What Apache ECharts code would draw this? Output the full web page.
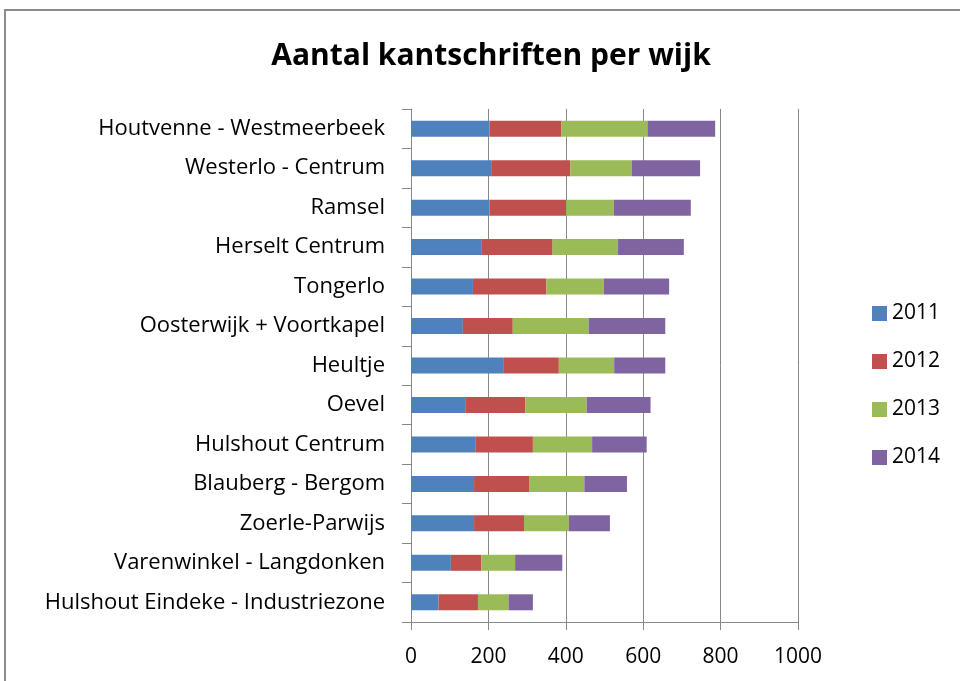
<!DOCTYPE html>
<html>
<head>
<meta charset="utf-8">
<script src="https://cdn.jsdelivr.net/npm/echarts@6/dist/echarts.min.js"></script>
<style>
  html, body { margin: 0; padding: 0; background: #fff; }
  #chart { width: 960px; height: 681px; }
</style>
</head>
<body>
<div id="chart"></div>
<script>
// wijken, van boven naar onder
var wijken = [
  'Houtvenne - Westmeerbeek',
  'Westerlo - Centrum',
  'Ramsel',
  'Herselt Centrum',
  'Tongerlo',
  'Oosterwijk + Voortkapel',
  'Heultje',
  'Oevel',
  'Hulshout Centrum',
  'Blauberg - Bergom',
  'Zoerle-Parwijs',
  'Varenwinkel - Langdonken',
  'Hulshout Eindeke - Industriezone'
]
var jaren = ['2011', '2012', '2013', '2014']
var data2011 = [203, 209, 203, 183, 160, 134, 240, 140, 166, 163, 163, 103, 71]
var data2012 = [186, 203, 198, 183, 190, 129, 142, 155, 149, 142, 129, 79, 102]
var data2013 = [222, 158, 123, 169, 148, 196, 143, 159, 153, 143, 116, 87, 79]
var data2014 = [175, 177, 199, 170, 169, 198, 132, 165, 141, 110, 106, 122, 63]
var xTicks = { min: 0, max: 1000, interval: 200 }

var kleuren = ['#4F81BD', '#C0504D', '#9BBB59', '#8064A2']
var reeksen = [data2011, data2012, data2013, data2014]
var font = 'Open Sans'

var chart = echarts.init(document.getElementById('chart'))
chart.setOption({
  animation: false,
  backgroundColor: '#fff',
  color: kleuren,
  title: {
    text: 'Aantal kantschriften per wijk',
    left: 486,
    textAlign: 'center',
    top: 36,
    textStyle: { fontFamily: font, fontSize: 30, fontWeight: 'bold', color: '#000' }
  },
  graphic: [{
    type: 'polyline',
    shape: { points: [[5, 700], [5, 10], [970, 10]] },
    style: { stroke: '#8c8c8c', lineWidth: 2, fill: null }
  }],
  legend: {
    orient: 'vertical',
    left: 867,
    top: 298,
    itemGap: 27,
    itemWidth: 15,
    itemHeight: 15,
    icon: 'rect',
    data: jaren,
    textStyle: { fontFamily: font, fontSize: 21, color: '#000' }
  },
  grid: { left: 411, right: 162, top: 109, bottom: 59 },
  xAxis: {
    type: 'value',
    min: xTicks.min,
    max: xTicks.max,
    interval: xTicks.interval,
    axisLine: { show: true, lineStyle: { color: '#888' } },
    axisTick: { show: true, length: 8, lineStyle: { color: '#888' } },
    splitLine: { show: true, lineStyle: { color: '#888', width: 1 } },
    axisLabel: {
      fontFamily: font, fontSize: 21, color: '#000', margin: 25,
      formatter: function (v) { return String(v) }
    }
  },
  yAxis: {
    type: 'category',
    inverse: true,
    data: wijken,
    axisLine: { show: true, lineStyle: { color: '#888' } },
    axisTick: { show: true, length: 9, lineStyle: { color: '#888' } },
    axisLabel: { fontFamily: font, fontSize: 22, color: '#000', margin: 26 }
  },
  series: reeksen.map(function (d, i) {
    return {
      name: jaren[i],
      type: 'bar',
      stack: 'totaal',
      barWidth: 16,
      data: d
    }
  })
})
</script>
</body>
</html>
